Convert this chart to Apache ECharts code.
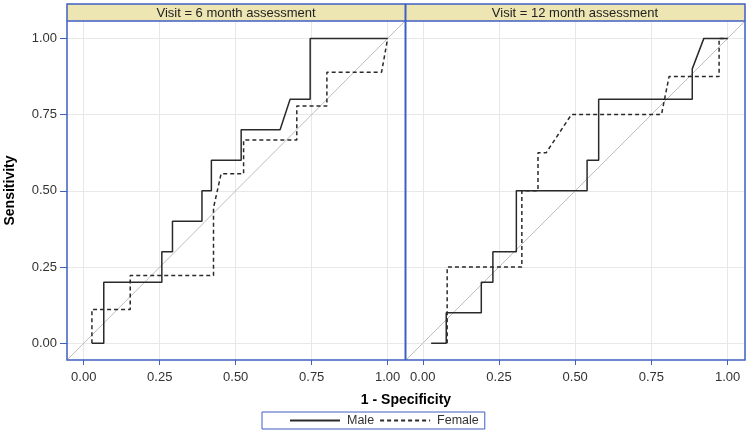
<!DOCTYPE html>
<html>
<head>
<meta charset="utf-8">
<script src="https://cdn.jsdelivr.net/npm/echarts@6/dist/echarts.min.js"></script>
<style>html,body{margin:0;padding:0;background:#fff}#c{width:750px;height:435px}</style>
</head>
<body>
<div id="c"></div>
<script>
// ---- data ----
const panelTitles = ['Visit = 6 month assessment', 'Visit = 12 month assessment'];
const tickValues = [0, 0.25, 0.5, 0.75, 1];
const axisMin = -0.055, axisMax = 1.057;
const diagRef = [axisMin, axisMax];

const male6x   = [0.027, 0.066, 0.066, 0.257, 0.257, 0.292, 0.292, 0.389, 0.389, 0.42, 0.42, 0.518, 0.518, 0.646, 0.679, 0.745, 0.745, 1.0];
const male6y   = [0,     0,     0.2,   0.2,   0.3,   0.3,   0.4,   0.4,   0.5,   0.5,  0.6,  0.6,   0.7,   0.7,   0.8,   0.8,   1.0,   1.0];
const female6x = [0.027, 0.027, 0.153, 0.153, 0.427, 0.427, 0.452, 0.526, 0.526, 0.701, 0.701, 0.80, 0.80, 0.98, 1.0];
const female6y = [0,     0.111, 0.111, 0.222, 0.222, 0.444, 0.556, 0.556, 0.667, 0.667, 0.778, 0.778, 0.889, 0.889, 1.0];

const male12x   = [0.0275, 0.077, 0.077, 0.192, 0.192, 0.23, 0.23, 0.307, 0.307, 0.539, 0.539, 0.577, 0.577, 0.884, 0.884, 0.922, 1.0];
const male12y   = [0,      0,     0.1,   0.1,   0.2,   0.2,  0.3,  0.3,   0.5,   0.5,   0.6,   0.6,   0.8,   0.8,   0.9,   1.0,   1.0];
const female12x = [0.08, 0.08, 0.325, 0.325, 0.378, 0.378, 0.405, 0.4875, 0.783, 0.808, 0.972, 0.972, 1.0];
const female12y = [0,    0.25, 0.25,  0.5,   0.5,   0.625, 0.625, 0.75,   0.75,  0.875, 0.875, 1.0,   1.0];

// ---- chart ----
const zip = (xs, ys) => xs.map((x, i) => [x, ys[i]]);
const blue = '#3f5fc4';
const fam = 'Liberation Sans, Arial, sans-serif';
const labelFont = { fontFamily: fam, fontSize: 13, color: '#333' };

function xAxisDef(gi) {
  return {
    type: 'value', gridIndex: gi, min: axisMin, max: axisMax,
    axisLine: { show: false, onZero: false },
    axisTick: { show: true, inside: false, customValues: tickValues, length: 5, lineStyle: { color: blue, width: 1 } },
    axisLabel: Object.assign({ customValues: tickValues, margin: 11, formatter: v => v.toFixed(2) }, labelFont),
    splitLine: { show: true, lineStyle: { color: '#e8e8e8', width: 1 } }
  };
}
function yAxisDef(gi, showLabels) {
  const ax = {
    type: 'value', gridIndex: gi, min: axisMin, max: axisMax,
    axisLine: { show: false, onZero: false },
    axisTick: { show: showLabels, inside: false, customValues: tickValues, length: 7, lineStyle: { color: blue, width: 1 } },
    axisLabel: Object.assign({ show: showLabels, customValues: tickValues, margin: 10, formatter: v => v.toFixed(2) }, labelFont),
    splitLine: { show: true, lineStyle: { color: '#e8e8e8', width: 1 } }
  };
  if (showLabels) {
    ax.name = 'Sensitivity';
    ax.nameLocation = 'middle';
    ax.nameRotate = 90;
    ax.nameGap = 50;
    ax.nameTextStyle = { fontFamily: fam, fontSize: 14, fontWeight: 'bold', color: '#000' };
  }
  return ax;
}
function lineSeries(name, data, gi, dashed) {
  return {
    type: 'line', name: name, xAxisIndex: gi, yAxisIndex: gi, data: data,
    symbol: 'none', silent: true, animation: false, z: 5,
    lineStyle: { color: '#2a2a2a', width: 1.5, type: dashed ? [4, 3] : 'solid' },
    itemStyle: { color: '#2a2a2a' }
  };
}
function diagSeries(gi) {
  return {
    type: 'line', xAxisIndex: gi, yAxisIndex: gi, data: zip(diagRef, diagRef),
    symbol: 'none', silent: true, animation: false, z: 3,
    lineStyle: { color: '#bdbdbd', width: 1 }
  };
}

const chart = echarts.init(document.getElementById('c'), null, { renderer: 'canvas' });
chart.setOption({
  animation: false,
  backgroundColor: '#fff',
  grid: [
    { left: 67, top: 21, width: 338, height: 339 },
    { left: 406, top: 21, width: 339, height: 339 }
  ],
  xAxis: [xAxisDef(0), xAxisDef(1)],
  yAxis: [yAxisDef(0, true), yAxisDef(1, false)],
  legend: {
    data: ['Male', 'Female'],
    left: 262, top: 412,
    padding: [2, 6, 2, 27],
    itemWidth: 50, itemHeight: 10, itemGap: 5,
    itemStyle: { opacity: 0, borderWidth: 0 },
    borderColor: blue, borderWidth: 1,
    textStyle: { fontFamily: fam, fontSize: 12.5, color: '#333', padding: [0, 0, 0, 2] },
    selectedMode: false
  },
  series: [
    diagSeries(0), diagSeries(1),
    lineSeries('Male', zip(male6x, male6y), 0, false),
    lineSeries('Female', zip(female6x, female6y), 0, true),
    lineSeries('Male', zip(male12x, male12y), 1, false),
    lineSeries('Female', zip(female12x, female12y), 1, true)
  ],
  graphic: [
    { type: 'rect', shape: { x: 67, y: 4, width: 338, height: 17 }, style: { fill: '#ede6b3', stroke: null }, z: 10 },
    { type: 'rect', shape: { x: 406, y: 4, width: 339, height: 17 }, style: { fill: '#ede6b3', stroke: null }, z: 10 },
    { type: 'text', x: 236, y: 13, style: { text: panelTitles[0], font: '13px ' + fam, fill: '#222', textAlign: 'center', textVerticalAlign: 'middle' }, z: 11 },
    { type: 'text', x: 575, y: 13, style: { text: panelTitles[1], font: '13px ' + fam, fill: '#222', textAlign: 'center', textVerticalAlign: 'middle' }, z: 11 },
    { type: 'rect', shape: { x: 67, y: 4, width: 678, height: 356 }, style: { fill: null, stroke: blue, lineWidth: 1.5 }, z: 12 },
    { type: 'line', shape: { x1: 67, y1: 21, x2: 745, y2: 21 }, style: { stroke: blue, lineWidth: 1.5 }, z: 12 },
    { type: 'line', shape: { x1: 405.5, y1: 4, x2: 405.5, y2: 360 }, style: { stroke: blue, lineWidth: 2 }, z: 12 },
    { type: 'text', x: 406, y: 400, style: { text: '1 - Specificity', font: 'bold 14px ' + fam, fill: '#000', textAlign: 'center', textVerticalAlign: 'middle' }, z: 11 }
  ]
});
</script>
</body>
</html>
